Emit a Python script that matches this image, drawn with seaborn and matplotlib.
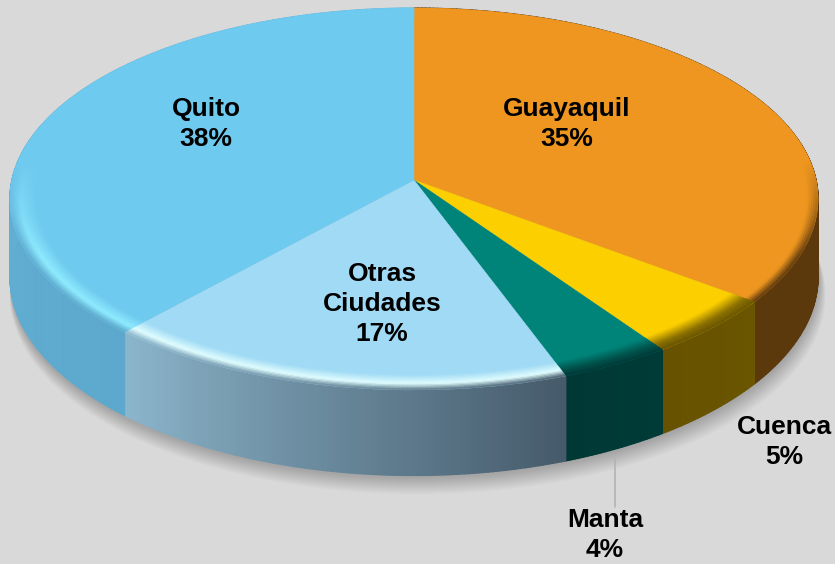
import numpy as np
import matplotlib
matplotlib.use('Agg')
import matplotlib.pyplot as plt
from matplotlib.collections import PolyCollection
from matplotlib.colors import to_rgb
from matplotlib.transforms import Transform
import seaborn as sns

# Datos
ciudades = ['Guayaquil', 'Cuenca', 'Manta', 'Otras\nCiudades', 'Quito']
porcentajes = [35, 5, 4, 17, 38]

# Colores
color_cara = ['#ee961f', '#fccf00', '#00847a', '#a0daf5', '#6fcaef']
color_borde = ['#ee961f', '#8a7000', '#00524c', '#e2ffff', '#90ecff']
lado_ini = ['#5c380d', '#6a5500', '#003b38', '#455a6a', '#5ca9cd']
lado_fin = ['#5c380d', '#665200', '#003835', '#8cb6cc', '#6bb8dc']
FONDO = '#d9d9d9'

# Geometria de la perspectiva (en pixeles)
CX, CY = 414, 180
RX, RY = 402, 189
PERSP = 0.0995
ALTO = 77

sns.set_theme(style='white')
plt.rcParams['font.family'] = ['Liberation Sans', 'DejaVu Sans']


def proyectar(x, y):
    w = 1 + PERSP * y
    return CX + RX * x / w, CY - RY * y / w


class Perspectiva(Transform):
    input_dims = 2
    output_dims = 2
    is_affine = False

    def transform_non_affine(self, values):
        px, py = proyectar(values[:, 0], values[:, 1])
        return np.column_stack([px, py])


def malla(ax, X, Y, colores, zorder, grosor=0.4):
    # cuadrilateros de color, para los degradados
    quads = []
    for i in range(X.shape[0] - 1):
        for j in range(X.shape[1] - 1):
            quads.append([(X[i, j], Y[i, j]), (X[i, j + 1], Y[i, j + 1]),
                          (X[i + 1, j + 1], Y[i + 1, j + 1]), (X[i + 1, j], Y[i + 1, j])])
    pc = PolyCollection(quads, facecolors=colores, edgecolors=colores, linewidths=grosor, zorder=zorder)
    ax.add_collection(pc)


fig = plt.figure(figsize=(8.35, 5.64), dpi=100, facecolor=FONDO)
ax = fig.add_axes([0, 0, 1, 1])

wedges, _ = ax.pie(porcentajes, colors=color_cara, startangle=90, counterclock=False)
persp = Perspectiva() + ax.transData
for w in wedges:
    w.set_transform(persp)
    w.set_zorder(3)
    w.set_edgecolor(w.get_facecolor())
    w.set_linewidth(0.3)

ax.set_aspect('auto')
ax.set_xlim(0, 835)
ax.set_ylim(564, 0)
ax.set_facecolor(FONDO)

fracciones = np.array(porcentajes) / sum(porcentajes)
limites = np.concatenate([[0], np.cumsum(fracciones)]) * 2 * np.pi

# Sombra bajo el cuerpo
th = np.linspace(0, 2 * np.pi, 361)
sx, sy = proyectar(np.sin(th), np.cos(th))
sy = sy + ALTO / (1 + PERSP * np.cos(th))
for k in range(20):
    ax.fill(CX + (sx - CX) * (1 + k * 0.0005) + k * 0.2, sy + k * 1.0, color='black',
            alpha=0.013, lw=0, zorder=1)

# Lado y bisel de cada porcion
for i in range(len(porcentajes)):
    t = np.linspace(limites[i], limites[i + 1], max(int(porcentajes[i] * 6), 12))
    px, py = proyectar(np.sin(t), np.cos(t))
    prof = ALTO / (1 + PERSP * np.cos(t))
    mitad = (t[:-1] + t[1:]) / 2
    f = (mitad - t[0]) / (t[-1] - t[0])
    ini, fin = np.array(to_rgb(lado_ini[i])), np.array(to_rgb(lado_fin[i]))
    col_lado = ini + (fin - ini) * f[:, None]

    X = np.vstack([px, px])
    Y = np.vstack([py, py + prof])
    malla(ax, X, Y, col_lado, 2, grosor=1.0)

    # bisel, de adentro hacia el canto
    radios = np.linspace(0.935, 1.0, 13)
    Xb, Yb = [], []
    for r in radios:
        bx, by = proyectar(r * np.sin(t), r * np.cos(t))
        Xb.append(bx)
        Yb.append(by)
    Xb, Yb = np.array(Xb), np.array(Yb)
    cara = np.array(to_rgb(color_cara[i]))
    borde = np.array(to_rgb(color_borde[i]))
    fuerza = np.clip((0.1 - np.cos(mitad)) / 0.5, 0, 1)[:, None]
    colores = []
    for n in range(len(radios) - 1):
        u = (n + 0.5) / (len(radios) - 1)
        if u < 0.6:
            c = cara + (borde - cara) * (u / 0.6)
            c = np.tile(c, (len(mitad), 1))
        else:
            c = borde + (col_lado - borde) * ((u - 0.6) / 0.4)
        colores.append(cara + (c - cara) * fuerza)
    colores = np.concatenate(colores)
    malla(ax, Xb, Yb, colores, 4)

# Linea guia de Manta
ax.plot([615, 615], [457, 507], color='#b3b3b3', lw=1.2, zorder=5)

# Etiquetas
pos_x = [567, 784, 605, 382, 206]
pos_y = [124, 442, 535, 304, 124]
for nombre, pct, x, y in zip(ciudades, porcentajes, pos_x, pos_y):
    ax.text(x, y, f'{nombre}\n{pct}%', ha='center', va='center', fontsize=19,
            fontweight='bold', color='black', linespacing=1.32, zorder=6)

fig.savefig('out.png', dpi=100, facecolor=FONDO)
